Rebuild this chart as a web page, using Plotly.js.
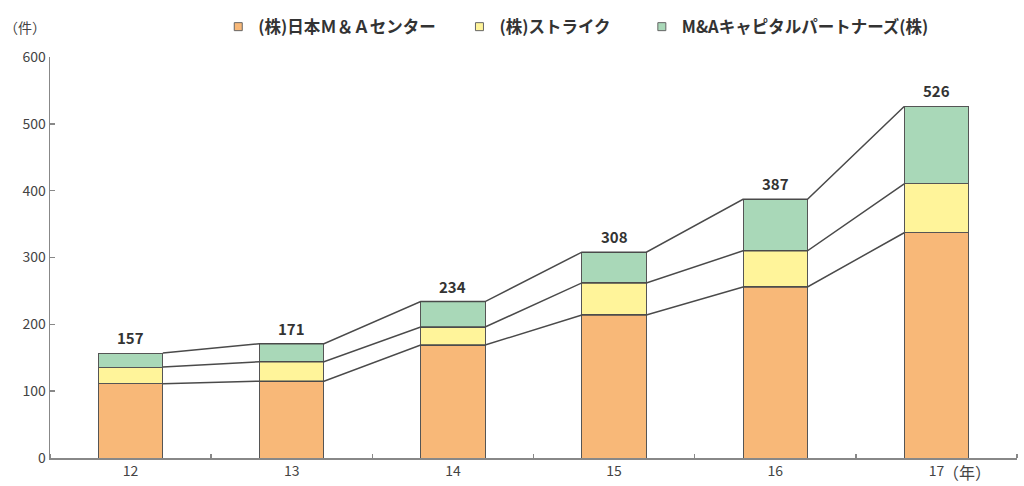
<!DOCTYPE html>
<html>
<head>
<meta charset="utf-8">
<script src="https://cdn.plot.ly/plotly-3.0.1.min.js"></script>
<style>html,body{margin:0;padding:0;background:#fff;}#chart{width:1024px;height:486px;}</style>
</head>
<body>
<div id="chart"></div>
<script>
const years = ['12', '13', '14', '15', '16', '17'];
const seriesNames = ['(株)日本Ｍ＆Ａセンター', '(株)ストライク', 'M&Aキャピタルパートナーズ(株)'];
const nihonMA = [111, 115, 169, 214, 256, 337];
const strike = [25, 29, 27, 48, 54, 73];
const maCapital = [21, 27, 38, 46, 77, 116];
const totals = [157, 171, 234, 308, 387, 526];
const colors = ['#F8B878', '#FFF49A', '#A9D8B8'];

const FONT = '"Noto Sans CJK JP", "Noto Sans", sans-serif';
const idx = years.map((_, i) => i);
const barWidth = 0.4;
const series = [nihonMA, strike, maCapital];
const legendPad = ['\u00A0'.repeat(5), '\u00A0'.repeat(7), ''];

const traces = [];
series.forEach((vals, s) => {
  traces.push({
    type: 'bar', x: idx, y: vals, width: barWidth, name: seriesNames[s],
    marker: {color: colors[s], line: {color: '#555', width: 1}},
    showlegend: false, hoverinfo: 'y'
  });
});

// connecting lines between bar boundaries
const cum = [];
let run = idx.map(() => 0);
series.forEach(vals => { run = run.map((r, i) => r + vals[i]); cum.push(run.slice()); });
cum.forEach(level => {
  const lx = [], ly = [];
  for (let i = 0; i < idx.length - 1; i++) {
    lx.push(idx[i] + barWidth / 2, idx[i + 1] - barWidth / 2);
    ly.push(level[i], level[i + 1]);
  }
  traces.push({type: 'scatter', mode: 'lines', x: lx, y: ly, line: {color: '#4a4a4a', width: 1.5}, showlegend: false, hoverinfo: 'skip'});
});

// legend entries
series.forEach((vals, s) => {
  traces.push({
    type: 'scatter', mode: 'markers', x: [null], y: [null], name: seriesNames[s] + legendPad[s],
    marker: {symbol: 'square', size: 8, color: colors[s], line: {color: '#666', width: 1}}
  });
});

const totalLabels = idx.map(i => ({
  text: String(totals[i]), xref: 'x', yref: 'y', x: i, y: totals[i], yanchor: 'bottom', yshift: 3,
  showarrow: false, font: {family: FONT, size: 15, color: '#333', weight: 'bold'}
}));

const layout = {
  width: 1024, height: 486,
  margin: {l: 50, r: 7, t: 57, b: 28},
  paper_bgcolor: '#fff', plot_bgcolor: '#fff',
  barmode: 'stack',
  font: {family: FONT, color: '#444', size: 13},
  xaxis: {
    range: [-0.5, 5.5], tickvals: idx, ticktext: years, ticks: '', showgrid: false, zeroline: false,
    showline: true, linecolor: '#888', linewidth: 1.5,
    tickfont: {family: FONT, size: 14, color: '#444'},
    minor: {tickvals: [-0.5, 0.5, 1.5, 2.5, 3.5, 4.5, 5.5], ticks: 'inside', ticklen: 4, tickcolor: '#888', tickwidth: 1.5, showgrid: false}
  },
  yaxis: {
    range: [0, 600], dtick: 100, ticks: 'inside', ticklen: 5, tickcolor: '#888', tickwidth: 1.5,
    showline: true, linecolor: '#888', linewidth: 1.5, showgrid: false, zeroline: false,
    tickfont: {family: FONT, size: 14, color: '#444'}
  },
  legend: {
    orientation: 'h', x: 0.174, xanchor: 'left', y: 1.075, yanchor: 'middle',
    font: {family: FONT, size: 16.5, color: '#333', weight: 'bold'},
    itemsizing: 'trace', itemwidth: 30, bgcolor: 'rgba(0,0,0,0)', traceorder: 'normal'
  },
  annotations: [
    {text: '（件）', xref: 'paper', yref: 'paper', x: -0.05, y: 1.075, xanchor: 'left', yanchor: 'middle', showarrow: false, font: {family: FONT, size: 14, color: '#444'}},
    {text: '（年）', xref: 'x', yref: 'paper', x: 5, xshift: 5, y: 0, yshift: -14, xanchor: 'left', yanchor: 'middle', showarrow: false, font: {family: FONT, size: 16, color: '#444'}}
  ].concat(totalLabels),
  showlegend: true
};

Plotly.newPlot('chart', traces, layout, {displayModeBar: false, staticPlot: true});
</script>
</body>
</html>
